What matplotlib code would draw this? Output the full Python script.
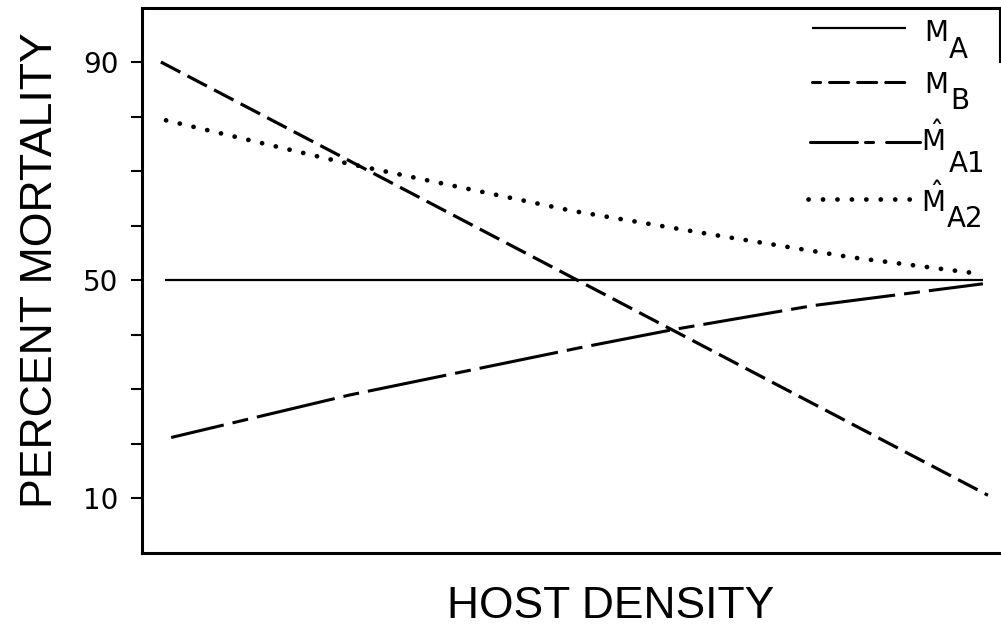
import matplotlib
matplotlib.use('Agg')
import matplotlib.pyplot as plt
from matplotlib.lines import Line2D
from matplotlib import font_manager

plt.rcParams['lines.scale_dashes'] = False
plt.rcParams['mathtext.fontset'] = 'dejavusans'

# --- values (host density on an arbitrary 0-1 scale) ---
x_ma = [0.027, 0.980]
ma = [50, 50]

x_mb = [0.022, 0.986]
mb = [90, 10.5]

x_ma1 = [0.034, 0.242, 0.508, 0.619, 0.782, 0.980]
ma1 = [21.1, 28.9, 37.5, 40.9, 45.3, 49.3]

x_ma2 = [0.028, 0.239, 0.501, 0.662, 0.825, 0.973]
ma2 = [79.3, 71.4, 62.7, 58.4, 54.2, 51.2]

yticks = [10, 20, 30, 40, 50, 60, 70, 80, 90]
ytick_labels = ['10', '', '', '', '50', '', '', '', '90']

W, H = 1001, 640
def fx(px):
    return px / W
def fy(py):
    return 1 - py / H

try:
    font_manager.findfont('Liberation Sans Narrow', fallback_to_default=False)
    label_font = 'Liberation Sans Narrow'
except ValueError:
    label_font = 'Liberation Sans'

fig = plt.figure(figsize=(W / 100, H / 100), dpi=100)
ax = fig.add_axes([fx(142), fy(552.5), (1000 - 142) / W, (552.5 - 7.5) / H])
ax.set_xlim(0, 1)
ax.set_ylim(0, 100)

# series line styles (dash lengths in points)
ax.plot(x_ma, ma, color='k', lw=1.6, solid_capstyle='butt')
ax.plot(x_mb, mb, color='k', lw=2.3, linestyle=(0, (15.8, 5.8)))
ax.plot(x_ma1, ma1, color='k', lw=2.2, linestyle=(18.7, (57.6, 6.5, 11.5, 6.5)))
ax.plot(x_ma2, ma2, color='k', lw=3.4, linestyle=(0, (0.1, 10.05)),
        dash_capstyle='round')

# axes frame
for side in ['left', 'bottom', 'top']:
    ax.spines[side].set_linewidth(2.2)
ax.spines['right'].set_linewidth(1.5)
ax.spines['right'].set_bounds(90, 100)

ax.set_xticks([])
ax.set_yticks(yticks)
ax.set_yticklabels(ytick_labels)
ax.tick_params(axis='y', direction='out', length=8, width=1.5, pad=9,
               labelsize=20)

# --- hand-made legend in the upper right ---
leg_lines = [
    dict(x=(812, 906), y=28, lw=1.6, ls='-'),
    dict(x=(812, 906), y=82, lw=2.2, ls=(7.9, (13.7, 6.5))),
    dict(x=(810, 920), y=142, lw=2.2, ls=(0, (33.8, 5.8, 5.8, 9.4))),
    dict(x=(808, 911), y=199, lw=3.4, ls=(0, (0.1, 10.3))),
]
for d in leg_lines:
    ln = Line2D([fx(d['x'][0]), fx(d['x'][1])], [fy(d['y'])] * 2,
                transform=fig.transFigure, color='k', lw=d['lw'],
                linestyle=d['ls'], dash_capstyle='round', solid_capstyle='butt')
    fig.add_artist(ln)

leg_fs = 20
leg_text = [
    ('M', 924, 41, 'A', 949, 58),
    ('M', 924, 93, 'B', 950, 109),
    (r'$\hat{\mathrm{M}}$', 921, 151, 'A1', 949, 172),
    (r'$\hat{\mathrm{M}}$', 921, 212, 'A2', 947, 227),
]
for main, mx, my, sub, sx, sy in leg_text:
    fig.text(fx(mx), fy(my), main, fontsize=leg_fs, ha='left', va='baseline')
    fig.text(fx(sx), fy(sy), sub, fontsize=leg_fs, ha='left', va='baseline')

# --- axis titles, sized to the widths measured on the original ---
ylab = fig.text(fx(41), fy(270), 'PERCENT MORTALITY', rotation=90,
                ha='center', va='center', fontsize=39, family=label_font)
xlab = fig.text(fx(611), fy(606), 'HOST DENSITY', ha='center', va='center',
                fontsize=39, family=label_font)
fig.canvas.draw()
r = fig.canvas.get_renderer()
bb = ylab.get_window_extent(r)
ylab.set_fontsize(39 * 476 / bb.height)
bb = xlab.get_window_extent(r)
xlab.set_fontsize(39 * 327 / bb.width)

fig.savefig('out.png', dpi=100)
